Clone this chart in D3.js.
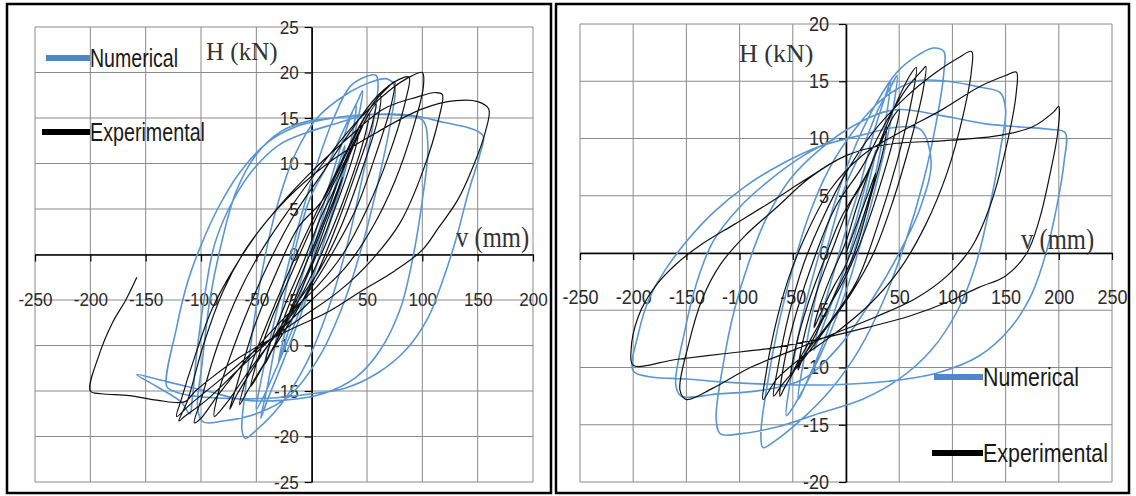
<!DOCTYPE html>
<html>
<head>
<meta charset="utf-8">
<script src="https://cdn.jsdelivr.net/npm/d3@7"></script>
<style>
  html, body { margin: 0; padding: 0; background: #fff; }
  svg { display: block; }
</style>
</head>
<body>
<svg id="chart" width="1136" height="496"></svg>
<script>
// ---- data (v in mm, H in kN) ----
const seriesNames = ["Numerical", "Experimental"];

const leftXTicks = [-250, -200, -150, -100, -50, 0, 50, 100, 150, 200];
const leftYTicks = [-25, -20, -15, -10, -5, 0, 5, 10, 15, 20, 25];
const rightXTicks = [-250, -200, -150, -100, -50, 0, 50, 100, 150, 200, 250];
const rightYTicks = [-20, -15, -10, -5, 0, 5, 10, 15, 20];

const leftExperimental = [
  [0,0],[10,3],[20,6],[28,8.5],[24,7],[12,3],[0,-1],[-12,-4],[-24,-7.5],[-30,-9],[-25,-7],[-12,-3],[0,0.5],
  [15,5],[30,10],[42,13],[38,11],[24,6],[8,1],[-10,-4],[-28,-8.5],[-42,-12],[-38,-10],[-24,-5.5],[-8,-1],[8,4],
  [20,7],[40,12.5],[52,15.5],[48,13],[32,7],[14,1.5],[-5,-3.5],[-25,-8],[-45,-12.5],[-55,-14.5],[-50,-12],[-36,-7],[-18,-2],[2,3.5],
  [25,9],[45,14],[58,16.5],[55,14.5],[40,9],[22,3],[5,-2],[-15,-6.5],[-38,-11],[-58,-15],[-65,-16.5],[-60,-14],[-45,-9],[-28,-4],[-10,1],
  [22,9],[45,14.5],[62,17.5],[60,15],[46,9.5],[28,3.5],[8,-1.5],[-20,-6.5],[-45,-11],[-68,-15.5],[-74,-17],[-68,-14.5],[-52,-8],[-32,-2],[-12,3],
  [10,6],[35,12],[55,16.5],[70,18.5],[75,19],[72,16.5],[58,11],[40,5],[18,0],[-5,-4.5],[-30,-8.5],[-55,-12.5],[-78,-16.5],[-88,-17.8],[-85,-15.5],[-70,-10],[-52,-4.5],[-35,0],[-15,4.5],
  [10,9],[35,13.5],[60,17.5],[80,19.3],[88,19.5],[85,17],[70,11],[50,5],[28,0],[5,-3.5],[-25,-7],[-55,-11],[-85,-15.5],[-100,-18],[-106,-18.5],[-100,-16],[-85,-10],[-65,-4],[-45,0.5],[-20,5],
  [10,10],[40,14.5],[70,18],[90,19.6],[100,20],[101,18.5],[92,14],[75,8],[55,3],[30,-1.5],[0,-5],[-30,-8.5],[-65,-12.5],[-95,-16],[-115,-17.8],[-120,-18.3],[-112,-16],[-98,-10],[-80,-4],[-60,0.5],[-35,4.5],[-5,8.5],
  [30,12.5],[65,16],[95,17.3],[112,17.8],[118,17.6],[115,15],[100,9],[80,3.5],[55,-0.5],[25,-4],[-10,-7],[-45,-10],[-80,-13.5],[-110,-16.5],[-122,-17.8],[-118,-16],[-105,-11],[-90,-6],[-70,-1.5],[-45,3],
  [-15,7],[20,10.5],[60,13.5],[100,16],[130,16.9],[150,16.8],[160,16],[157,13.5],[147,10],[132,6],[115,3],[100,0.5],[75,-1.8],[45,-4],[15,-6.3],[-15,-8],[-40,-9.5],[-65,-11.3],[-90,-13.5],[-105,-15],[-115,-16.2],[-140,-16],[-165,-15.5],[-190,-15.3],[-200,-15],[-192,-11],[-180,-7.5],[-168,-5],[-158,-2.5]
];

const leftNumerical = [
  [0,0],[10,4],[22,9],[30,12],[27,10],[15,5],[2,0],[-12,-5],[-25,-10],[-30,-12],[-26,-9.5],[-14,-4.5],[0,1],
  [12,6],[28,12.5],[40,16.5],[38,14],[26,8],[10,1],[-8,-6],[-25,-11.5],[-40,-16],[-46,-18],[-40,-14.5],[-30,-8],[-18,-1],[-2,6],
  [15,10],[30,14],[42,17],[46,18],[43,15.5],[32,10],[18,4],[2,-2],[-15,-7.5],[-32,-12.5],[-45,-16],[-50,-17],[-46,-14],[-36,-8.5],[-24,-2.5],[-10,4],[5,10],
  [20,15],[35,18.5],[50,19.6],[58,19.7],[60,18.8],[55,14],[45,8],[32,1],[15,-6],[-5,-12],[-28,-16.5],[-50,-19.3],[-60,-20.2],[-63,-19.3],[-60,-15],[-54,-9],[-45,-2],[-32,5],[-15,11],[5,15],
  [30,17.5],[55,19],[68,19.3],[75,18.5],[72,15],[62,9],[48,2],[30,-5],[8,-11],[-20,-15.5],[-50,-17.5],[-80,-18.3],[-98,-18.4],[-103,-17],[-99,-12],[-92,-5],[-82,1],[-68,7],[-50,11],[-28,13.5],[-5,14.6],[20,15],
  [55,15.4],[90,15.3],[120,14.5],[145,13.8],[155,13],[152,11],[142,7],[130,1.5],[118,-3],[105,-7],[85,-10.5],[60,-13],[30,-14.7],[0,-15.3],[-40,-15.8],[-80,-15.8],[-110,-15.5],[-125,-15],[-131,-14.5],[-122,-8],[-112,-3],[-100,1],[-85,5],[-65,9],[-40,12.3],[-15,14],[10,14.8],
  [40,15.3],[80,15.3],[100,14.8],[105,12],[100,6],[92,0],[80,-6],[62,-10.5],[40,-13.5],[10,-15.3],[-25,-16],[-60,-16],[-95,-15],[-130,-14],[-158,-13.2],[-140,-14.5],[-118,-16.2],[-110,-17.5],[-108,-16],[-104,-11],[-96,-4],[-88,1],[-75,5],[-55,9],[-30,12],[-2,13.5],[25,14.5],[50,15.5]
];

const rightExperimental = [
  [0,0],[10,2.5],[20,5],[28,7],[24,5.5],[12,2],[0,-1],[-12,-3],[-25,-5.5],[-30,-6.5],[-26,-5],[-14,-2],[0,1],
  [10,4],[25,8],[38,11],[35,9],[22,4.5],[8,0],[-10,-3.5],[-28,-7],[-42,-9.5],[-45,-10.2],[-40,-7.5],[-28,-3.5],[-12,0.5],[5,4.5],
  [15,6],[32,9.5],[45,12],[50,12.5],[46,10.5],[34,6.5],[18,2],[0,-2],[-18,-5],[-36,-8],[-48,-10],[-52,-10.8],[-48,-8.5],[-36,-4.5],[-20,-0.5],[-5,3],
  [20,7],[42,12],[60,15.5],[66,16.2],[62,13.5],[48,8],[30,2.5],[10,-2.5],[-15,-6],[-40,-9],[-58,-11.8],[-62,-12.5],[-58,-9.5],[-46,-5],[-30,-0.5],[-10,4],
  [15,7.5],[38,11.5],[58,14.5],[72,16],[75,16.3],[72,14],[60,9.5],[44,4.5],[26,0],[5,-3.5],[-18,-6.5],[-42,-9.5],[-60,-11.5],[-68,-12.5],[-64,-10],[-54,-5.5],[-40,-1],[-22,3],[0,7],
  [25,10.5],[55,13.5],[85,15.8],[105,17],[118,17.6],[118,16],[110,12],[95,7],[75,2.5],[50,-1.5],[22,-4.5],[-10,-7],[-40,-9],[-65,-11],[-78,-12.8],[-76,-11],[-68,-7],[-55,-2.5],[-38,1.5],[-15,5.5],
  [15,8.5],[50,10.5],[90,12.5],[125,14.5],[150,15.5],[160,15.8],[160,14],[150,9],[135,4],[118,0.5],[95,-2],[65,-4],[30,-5.5],[-10,-7],[-50,-8.5],[-90,-10],[-125,-11.8],[-150,-12.8],[-156,-12],[-148,-8],[-135,-4],[-118,-1],[-95,1.5],[-65,4],[-35,6.5],[0,8.5],
  [40,9.5],[90,9.8],[140,10.2],[175,11],[195,12.3],[200,12.8],[199,10.5],[192,7],[182,3],[170,0],[150,-2],[125,-3],[95,-4.3],[60,-5.5],[20,-6.5],[-25,-7.5],[-70,-8.3],[-115,-8.8],[-160,-9.3],[-200,-9.8],[-202,-8.5],[-195,-5.5],[-180,-3],[-160,-1],[-135,0.8],[-105,2.5],[-75,4.2],[-45,6],[-15,7.8]
];

const rightNumerical = [
  [0,0],[10,3],[20,6.5],[28,9],[25,7.5],[14,3.5],[0,-1],[-12,-4],[-24,-7],[-30,-8.5],[-26,-6.5],[-14,-2.5],[0,2],
  [12,5.5],[26,10.5],[38,14],[42,15],[38,12],[28,7],[12,1.5],[-5,-3.5],[-22,-8],[-38,-11.5],[-45,-12.8],[-40,-9.5],[-30,-4.5],[-16,1],[0,6],
  [15,9],[30,12.5],[42,14.5],[48,15.5],[45,13],[35,8.5],[20,3],[3,-2.5],[-15,-7],[-35,-11],[-50,-13.5],[-56,-14.2],[-52,-11],[-42,-6],[-28,-1],[-12,4],[5,8.5],
  [25,12.5],[48,15.8],[68,17.3],[82,17.9],[92,17.6],[92,15.8],[85,11.5],[72,6],[56,1],[36,-4],[12,-8.5],[-15,-12],[-45,-14.8],[-68,-16.5],[-78,-17],[-80,-15.8],[-74,-11.5],[-64,-6.5],[-52,-2],[-36,3],[-15,7.5],[10,11],[35,13.5],
  [65,15],[95,15],[125,14.5],[145,14],[150,12.5],[145,9],[135,4],[122,-1],[105,-5],[80,-8.5],[50,-11],[15,-12.8],[-25,-14],[-65,-15.2],[-100,-15.8],[-118,-15.8],[-122,-14.5],[-115,-9.5],[-105,-5],[-92,-1],[-75,3],[-52,6.5],[-25,9],[5,11],
  [45,12.5],[90,12],[130,11.3],[165,11],[192,10.8],[206,10.5],[205,8],[198,4],[188,0],[175,-3.5],[155,-6.5],[125,-9],[85,-10.5],[40,-11.2],[-10,-11.5],[-60,-11.5],[-110,-11.3],[-150,-11],[-185,-10.8],[-200,-10.3],[-195,-7],[-185,-4],[-170,-1.5],[-150,1],[-125,3.5],[-95,5.8],[-60,7.8],[-25,9.3],[15,10.3],[50,11],
  [70,10.8],[80,8],[70,4],[50,0],[25,-4],[-5,-8],[-40,-11],[-80,-12],[-120,-12.3],[-155,-12.5],[-160,-11.5],[-152,-7],[-140,-2.5],[-125,1],[-100,4],[-70,6.5],[-40,8.5],[-10,10]
];

// ---- drawing ----
const BLUE = "#5a97d2";
const BLACK = "#111";
const svg = d3.select("#chart");

function squeeze(sel, k) {
  sel.each(function () {
    const w = this.getComputedTextLength();
    if (w > 0) {
      this.setAttribute("textLength", w * k);
      this.setAttribute("lengthAdjust", "spacingAndGlyphs");
    }
  });
}

function drawPanel(cfg) {
  const g = svg.append("g");

  g.append("rect")
    .attr("x", cfg.frame[0]).attr("y", cfg.frame[1])
    .attr("width", cfg.frame[2]).attr("height", cfg.frame[3])
    .attr("fill", "#fff").attr("stroke", "#000").attr("stroke-width", 2.5);

  const x = d3.scaleLinear().domain(d3.extent(cfg.xTicks)).range(cfg.xRange);
  const y = d3.scaleLinear().domain(d3.extent(cfg.yTicks)).range(cfg.yRange);

  // gridlines
  g.append("g").selectAll("line")
    .data(cfg.xTicks).join("line")
    .attr("x1", (d) => x(d)).attr("x2", (d) => x(d))
    .attr("y1", cfg.yRange[1]).attr("y2", cfg.yRange[0])
    .attr("stroke", "#8a8a8a").attr("stroke-width", 1);
  g.append("g").selectAll("line")
    .data(cfg.yTicks).join("line")
    .attr("y1", (d) => y(d)).attr("y2", (d) => y(d))
    .attr("x1", cfg.xRange[0]).attr("x2", cfg.xRange[1])
    .attr("stroke", "#8a8a8a").attr("stroke-width", 1);

  // axes
  const xAxis = g.append("g")
    .attr("transform", `translate(0,${y(0)})`)
    .call(d3.axisBottom(x).tickValues(cfg.xTicks.filter((d) => d !== 0))
      .tickSize(7).tickSizeOuter(0).tickFormat((d) => d));
  xAxis.select(".domain").attr("stroke", "#000").attr("stroke-width", 1.6);
  xAxis.selectAll(".tick line").attr("stroke", "#000").attr("stroke-width", 1.2);
  xAxis.selectAll(".tick text")
    .attr("y", cfg.xLabelOffset).attr("dy", "0.35em")
    .attr("fill", "#2a2a2a")
    .style("font-family", "'Liberation Sans', Arial, sans-serif")
    .style("font-size", cfg.tickFont + "px")
    .call(squeeze, 0.9);

  const yAxis = g.append("g")
    .attr("transform", `translate(${x(0)},0)`)
    .call(d3.axisLeft(y).tickValues(cfg.yTicks).tickSize(7).tickSizeOuter(0)
      .tickPadding(cfg.yPad).tickFormat((d) => d));
  yAxis.select(".domain").attr("stroke", "#000").attr("stroke-width", 1.6);
  yAxis.selectAll(".tick line").attr("stroke", "#000").attr("stroke-width", 1.2);
  yAxis.selectAll(".tick text")
    .attr("fill", "#2a2a2a")
    .style("font-family", "'Liberation Sans', Arial, sans-serif")
    .style("font-size", cfg.tickFont + "px")
    .call(squeeze, 0.9);

  // curves
  const line = d3.line()
    .x((d) => x(d[0])).y((d) => y(d[1]))
    .curve(d3.curveCatmullRom.alpha(0.5));

  g.append("path").datum(cfg.numerical)
    .attr("d", line).attr("fill", "none")
    .attr("stroke", BLUE).attr("stroke-width", 1.6)
    .attr("stroke-linejoin", "round");
  g.append("path").datum(cfg.experimental)
    .attr("d", line).attr("fill", "none")
    .attr("stroke", BLACK).attr("stroke-width", 1.2)
    .attr("stroke-linejoin", "round");

  // axis titles
  g.append("text").text("H (kN)")
    .attr("x", cfg.hLabel[0]).attr("y", cfg.hLabel[1])
    .attr("fill", "#333")
    .style("font-family", "'Liberation Serif', 'Times New Roman', serif")
    .style("font-size", cfg.hFont + "px");
  g.append("text").text("v (mm)")
    .attr("x", cfg.vLabel[0]).attr("y", cfg.vLabel[1])
    .attr("fill", "#333")
    .style("font-family", "'Liberation Serif', 'Times New Roman', serif")
    .style("font-size", "30px")
    .call(squeeze, 0.82);

  // legend
  cfg.legend.forEach((p, i) => {
    g.append("line")
      .attr("x1", p[0]).attr("x2", p[1]).attr("y1", p[2]).attr("y2", p[2])
      .attr("stroke", i === 0 ? "#4f86c6" : "#000").attr("stroke-width", 6);
    g.append("text").text(seriesNames[i])
      .attr("x", p[1]).attr("y", p[2]).attr("dy", "0.36em")
      .attr("fill", "#1a1a1a")
      .style("font-family", "'Liberation Sans', Arial, sans-serif")
      .style("font-size", cfg.legendFont + "px")
      .attr("textLength", p[3]).attr("lengthAdjust", "spacingAndGlyphs");
  });
}

drawPanel({
  frame: [7, 4, 544, 489],
  xTicks: leftXTicks, yTicks: leftYTicks,
  xRange: [35, 533], yRange: [482, 27],
  xLabelOffset: 45, yPad: 6, tickFont: 19,
  numerical: leftNumerical, experimental: leftExperimental,
  hLabel: [206, 60], hFont: 25, vLabel: [456, 247],
  legend: [[46, 90, 58, 88], [42, 90, 132, 115]], legendFont: 25
});

drawPanel({
  frame: [556, 4, 573, 489],
  xTicks: rightXTicks, yTicks: rightYTicks,
  xRange: [580, 1112], yRange: [482, 24],
  xLabelOffset: 44, yPad: 10, tickFont: 20,
  numerical: rightNumerical, experimental: rightExperimental,
  hLabel: [739, 62], hFont: 26, vLabel: [1021, 249],
  legend: [[934, 983, 377, 96], [932, 983, 453, 125]], legendFont: 26
});
</script>
</body>
</html>
